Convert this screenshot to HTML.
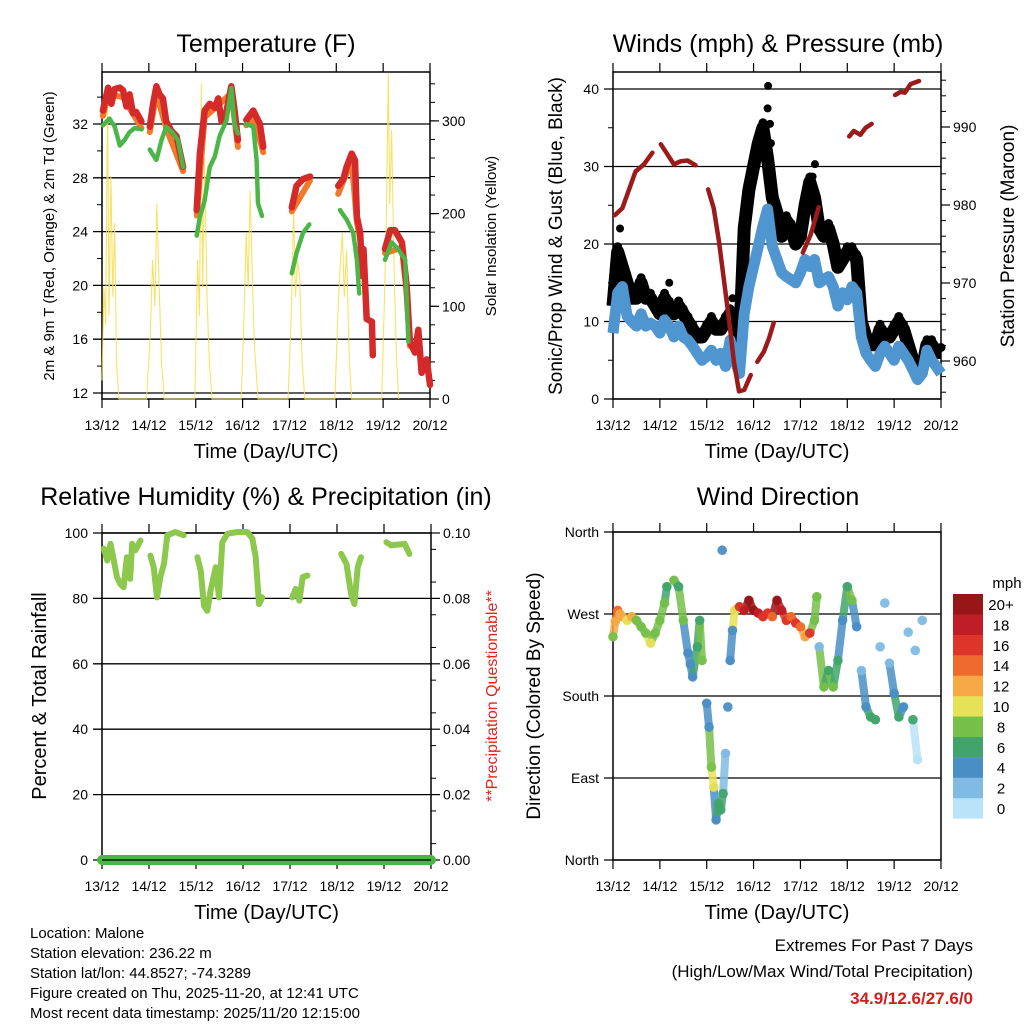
<!DOCTYPE html>
<html><head><meta charset="utf-8"><style>
body{margin:0;background:#fff;}
svg{display:block;font-family:"Liberation Sans",sans-serif;}
</style></head><body>
<svg id="fig" width="1024" height="1024" viewBox="0 0 1024 1024" xmlns="http://www.w3.org/2000/svg"></svg>
<script>
// ---------- DATA ----------
const dayLabels=["13/12","14/12","15/12","16/12","17/12","18/12","19/12","20/12"];
// Temperature (F)
const redTimes=[0.02,0.13,0.2,0.27,0.38,0.45,0.52,0.59,0.66,0.73,0.84,null,1.02,1.09,1.16,1.23,1.30,1.37,1.48,1.59,1.73,null,2.02,2.09,2.19,2.3,2.41,2.48,2.55,2.66,2.76,2.83,2.9,null,3.08,3.23,3.3,3.37,3.44,null,4.05,4.15,4.29,4.44,null,5.04,5.15,5.22,5.33,5.40,5.44,5.51,5.55,5.58,5.65,5.76,5.78,null,6.04,6.15,6.25,6.4,6.5,6.57,6.68,6.75,6.82,6.93,7.0];
const redValues=[33.0,34.7,33.5,34.6,34.7,34.5,33.3,34.2,32.8,32.9,32.2,null,31.8,33.5,34.8,34.2,33.9,32.2,31.5,31.1,28.8,null,25.6,29.8,33.0,33.5,33.2,33.9,32.2,33.0,34.8,33.0,30.8,null,32.3,33.0,32.5,32.0,30.3,null,25.8,27.4,27.9,28.1,null,27.4,27.9,28.8,29.8,29.3,25.1,23.9,20.7,22.7,17.5,17.3,14.8,null,22.7,24.1,24.1,23.2,20.0,15.8,15.0,16.7,13.5,14.5,12.6];
const orangeTimes=[0.02,0.13,0.45,0.84,null,1.02,1.16,1.37,1.73,null,2.02,2.19,2.48,2.76,2.9,null,3.08,3.23,3.44,null,4.05,4.44,null,5.04,5.33,5.44,5.51,null,6.04,6.4,6.5,6.57];
const orangeValues=[32.6,34.2,34.0,31.7,null,31.4,34.3,31.7,28.5,null,25.2,32.5,33.4,34.3,30.3,null,31.9,32.6,29.9,null,25.5,27.8,null,26.8,29.3,24.7,23.4,null,22.4,22.8,19.5,15.5];
const greenTimes=[0.02,0.16,0.27,0.38,0.48,0.59,0.70,0.84,null,1.02,1.16,1.27,1.37,1.52,1.62,1.73,null,2.02,2.09,2.19,2.3,2.41,2.51,2.66,2.76,2.83,2.9,null,3.08,3.23,3.3,3.33,3.42,null,4.05,4.15,4.29,4.44,null,5.08,5.22,5.36,5.44,5.49,null,6.04,6.18,6.32,6.47,6.54];
const greenValues=[31.9,32.4,31.8,30.4,30.8,31.4,31.7,31.6,null,30.1,29.3,30.8,31.8,31.3,30.8,28.8,null,23.7,25.1,26.3,28.8,29.6,31.1,32.3,34.7,32.0,31.3,null,32.0,31.8,29.3,26.1,25.1,null,20.9,22.4,23.9,24.6,null,25.6,24.9,23.9,21.9,19.4,null,21.9,23.2,22.7,21.9,15.8];
const solarTimes=[0.0,0.04,0.08,0.12,0.15,0.19,0.23,0.27,0.31,0.36,0.95,1.03,1.08,1.13,1.17,1.22,1.27,1.33,1.98,2.04,2.08,2.12,2.15,2.19,2.24,2.29,2.35,2.97,3.03,3.08,3.12,3.16,3.2,3.25,3.33,3.97,4.04,4.09,4.13,4.17,4.22,4.27,4.33,4.97,5.04,5.09,5.13,5.17,5.22,5.28,5.33,5.97,6.03,6.07,6.11,6.14,6.18,6.23,6.28,6.33];
const solarValues=[20,120,80,330,90,240,110,190,40,0,0,70,150,100,210,120,40,0,0,150,90,340,120,260,110,40,0,0,90,180,120,225,150,60,0,0,90,204,110,150,130,40,0,0,100,150,179,110,160,40,0,0,110,200,352,210,290,150,50,0];
// Winds & pressure
const windTimes=[0,0.1,0.2,0.3,0.4,0.5,0.6,0.7,0.8,0.9,1.0,1.1,1.2,1.3,1.4,1.5,1.6,1.7,1.8,1.9,2.0,2.1,2.2,2.3,2.4,2.5,2.6,2.7,2.8,2.9,3.0,3.1,3.2,3.3,3.4,3.5,3.6,3.7,3.8,3.9,4.0,4.1,4.2,4.3,4.4,4.5,4.6,4.7,4.8,4.9,5.0,5.1,5.2,5.3,5.4,5.5,5.6,5.7,5.8,5.9,6.0,6.1,6.2,6.3,6.4,6.5,6.6,6.7,6.8,6.9,7.0];
const windSpeed=[8.5,13.7,14.5,10.7,10,9.4,11,9.4,9.8,9.4,8.5,10.2,9.4,8,9.4,8,7.6,6.8,5.9,5,5.5,6.3,5,5.9,4.2,7.6,5,3.3,11,14.5,17.1,19.7,22.3,24.5,19.7,18,16.3,15.8,15.4,15,16.3,18,17.1,18,15,15.4,15.8,14.5,12,13.7,12.8,14.5,13.7,8,5.9,5,4.2,5.9,6.8,5.9,5,6.8,5.9,5,3.8,2.5,3.3,6.3,5,4.2,3.3];
const windGust=[12,19,17,15,13,13,15,13,13,12,11,13,12,11,12,11,10,9,8,8,9,10,9,9,10,11,10,7,22,27,30,33,35,31,26,24,21,23,22,20,21,25,28,26,22,21,22,20,17,18,19,19,18,10,8,7,7,9,8,8,9,10,9,7,5,3,4,7,7,6,6];
const peakGustTimes=[3.31,3.3,3.37,3.35,4.31,4.26,0.15,1.2,2.55];
const peakGustValues=[40.4,37.5,33,35.5,30.3,28.7,22,15,13];
const presTimes=[0.04,0.2,0.48,0.66,0.84,null,1.02,1.16,1.3,1.44,1.59,1.76,null,2.03,2.15,2.26,2.37,2.48,2.58,2.69,2.8,2.94,null,3.08,3.22,3.33,3.43,null,4.05,4.22,4.39,null,5.04,5.14,5.28,5.39,5.52,null,6.02,6.14,6.23,6.35,6.53];
const presValues=[978.7,979.6,984.3,985.2,986.7,null,987.8,986.5,985.2,985.6,985.7,985.1,null,982,979.6,975.4,970.2,965.1,959.9,956.1,956.3,958.2,null,959.9,961.2,962.9,964.9,null,973.9,976.2,979.7,null,988.8,989.5,989,989.9,990.4,null,994.1,994.5,994.4,995.5,995.9];
// RH & precip
const rhTimes=[0.04,0.11,0.18,0.25,0.32,0.39,0.46,0.53,0.6,0.64,0.71,0.82,null,1.03,1.1,1.17,1.24,1.32,1.39,1.56,1.74,null,2.03,2.1,2.17,2.24,2.31,2.42,2.49,2.56,2.67,2.88,3.09,3.2,3.27,3.34,3.41,null,4.05,4.12,4.2,4.27,4.37,null,5.09,5.2,5.3,5.37,5.44,5.51,null,6.05,6.15,6.44,6.54];
const rhValues=[95.2,91.6,96.7,91.6,86.5,84.4,83.4,92.6,86,96.7,94.7,97.7,null,93.1,89.5,80.3,86.5,90.6,99.3,100.3,99.3,null,92.6,88.5,77.7,76.2,82.4,89.5,80.3,97.2,99.8,100.3,100.3,98.3,92.6,78.3,80.3,null,80.3,82.9,79.3,86.5,87,null,93.6,90.6,81.4,78.3,89.5,92.6,null,97.2,96.2,96.7,93.6];
const precipTimes=[0,7];
const precipValues=[0,0];
// Wind direction
const dirTimes=[0.0,0.05,0.1,0.15,0.2,0.3,0.4,0.5,0.6,0.7,0.8,0.9,1.0,1.1,1.15,1.3,1.4,1.5,1.6,1.65,1.7,1.8,1.85,1.9,2.0,2.05,2.1,2.15,2.2,2.25,2.3,2.35,2.4,2.45,2.5,2.55,2.6,2.7,2.8,2.9,3.0,3.1,3.2,3.3,3.4,3.5,3.6,3.7,3.8,3.9,4.0,4.1,4.2,4.3,4.35,4.4,4.5,4.6,4.7,4.8,4.9,5.0,5.1,5.2,5.3,5.4,5.5,5.6,5.7,5.8,5.9,6.0,6.1,6.2,6.4,6.5,6.6,2.33,6.3,6.45];
const dirDegrees=[245,262,274,270,267,263,267,263,256,249,238,249,263,282,300,307,300,263,227,215,201,234,263,219,172,146,102,80,44,62,55,73,117,168,219,252,274,278,274,285,274,271,267,271,267,285,274,263,267,260,256,245,249,263,289,234,190,208,190,219,263,300,285,256,208,168,157,154,234,282,216,183,157,168,154,110,263,340,250,230];
const dirSpeeds=[8,12,14,12,12,10,12,8,8,8,10,8,8,8,6,8,6,8,4,4,4,6,6,8,4,4,8,10,4,6,6,6,2,4,4,4,10,16,18,20,20,18,16,16,14,20,18,16,14,16,14,12,16,8,8,2,8,6,8,6,4,6,8,4,2,4,6,6,2,2,2,4,6,4,6,0,2,4,2,2];
const legendLabels=["0","2","4","6","8","10","12","14","16","18","20+"];
const legendColors=["#b9e3f8","#7fbbe4","#4a8ec6","#41a46c","#76c04a","#e6e258","#f6a945","#ef6a2d","#dd3529","#c01e26","#981518"];

// ---------- HELPERS ----------
const NS="http://www.w3.org/2000/svg";
const svg=document.getElementById('fig');
function mk(tag,attrs,parent){const e=document.createElementNS(NS,tag);for(const k in attrs)e.setAttribute(k,attrs[k]);(parent||svg).appendChild(e);return e;}
function txt(s,x,y,size,anchor,parent,extra){const e=mk('text',Object.assign({x:x,y:y,'font-size':size,'text-anchor':anchor||'middle',fill:'#000'},extra||{}),parent);e.textContent=s;return e;}
function pathFrom(times,vals,sx,sy){let d='',pen=false;for(let i=0;i<times.length;i++){if(times[i]===null||vals[i]===null){pen=false;continue;}d+=(pen?'L':'M')+sx(times[i]).toFixed(1)+','+sy(vals[i]).toFixed(1);pen=true;}return d;}
function frame(P,name,yTicks,sy,yLabels,rTicks,sr,rLabels,leftMinor,rightMinor){
  const g=mk('g',{});
  
  
  yTicks.forEach((v,i)=>{const y=sy(v);
    const gl=mk('line',{x1:P.x0-9,x2:P.x1,y1:y,y2:y,stroke:'#000','stroke-width':1.3},g);
    
    
    const t=txt(yLabels[i],P.x0-14,y+5,14,'end',g);
    
    });
  (leftMinor||[]).forEach(v=>{const y=sy(v);mk('line',{x1:P.x0-5,x2:P.x0,y1:y,y2:y,stroke:'#000','stroke-width':1},g);});
  if(rTicks){rTicks.forEach((v,i)=>{const y=sr(v);mk('line',{x1:P.x1,x2:P.x1+9,y1:y,y2:y,stroke:'#000','stroke-width':1.2},g);
    const t=txt(rLabels[i],P.x1+12,y+5,14,'start',g);
    
    });
    (rightMinor||[]).forEach(v=>{const y=sr(v);mk('line',{x1:P.x1,x2:P.x1+5,y1:y,y2:y,stroke:'#000','stroke-width':1},g);});}
  dayLabels.forEach((s,i)=>{const x=P.x0+i*(P.x1-P.x0)/7;
    mk('line',{x1:x,x2:x,y1:P.y0-9,y2:P.y0,stroke:'#000','stroke-width':1.2},g);
    mk('line',{x1:x,x2:x,y1:P.y1,y2:P.y1+9,stroke:'#000','stroke-width':1.2},g);
    const t=txt(s,x,P.y1+31,14,'middle',g);
    
    });
  const r=mk('rect',{x:P.x0,y:P.y0,width:P.x1-P.x0,height:P.y1-P.y0,fill:'none',stroke:'#000','stroke-width':1.5},g);
  
  
  const xt=txt('Time (Day/UTC)',(P.x0+P.x1)/2,P.y1+59,20,'middle',g);
  
  
  return g;
}
function rot(s,x,y,size,name,color){const t=txt(s,x,y,size,'middle',svg,{transform:'rotate(-90 '+x+' '+y+')',fill:color||'#000'});return t;}
function title(s,x,y,name){const t=txt(s,x,y,25,'middle');}
function range(a,b,s){const r=[];for(let v=a;v<=b+1e-9;v+=s)r.push(v);return r;}

// ---------- PANEL 1: Temperature ----------
const P1={x0:102,x1:430,y0:72,y1:399};
const sx1=d=>P1.x0+d*(P1.x1-P1.x0)/7;
const sy1=T=>393-(T-12)*13.45;
const sr1=v=>399-v*0.927;
title('Temperature (F)',266,52,'temperature-title');
frame(P1,'temperature',[12,16,20,24,28,32],sy1,["12","16","20","24","28","32"],[0,100,200,300],sr1,["0","100","200","300"],range(14,34,4),range(20,340,20));
const solar=mk('path',{d:pathFrom(solarTimes,solarValues,sx1,sr1),fill:'none',stroke:'#f7dc4a','stroke-width':1.1,'stroke-opacity':0.85});


const orange=mk('path',{d:pathFrom(orangeTimes,orangeValues,sx1,sy1),fill:'none',stroke:'#f07a2a','stroke-width':6,'stroke-linejoin':'round','stroke-linecap':'round'});


const red=mk('path',{d:pathFrom(redTimes,redValues,sx1,sy1),fill:'none',stroke:'#d42a2a','stroke-width':6.5,'stroke-linejoin':'round','stroke-linecap':'round'});


const green=mk('path',{d:pathFrom(greenTimes,greenValues,sx1,sy1),fill:'none',stroke:'#4cb548','stroke-width':4.5,'stroke-dasharray':'3 1.5','stroke-linejoin':'round','stroke-linecap':'round'});


rot('2m & 9m T (Red, Orange) & 2m Td (Green)',54,236,15,'temperature-y-axis-title');
rot('Solar Insolation (Yellow)',496,236,15,'solar-y-axis-title');

// ---------- PANEL 2: Winds ----------
const P2={x0:613,x1:941,y0:72,y1:399};
const sx2=d=>P2.x0+d*(P2.x1-P2.x0)/7;
const sy2=v=>399-v*7.75;
const sp2=mb=>361-(mb-960)*7.8;
title('Winds (mph) & Pressure (mb)',778,52,'winds-title');
frame(P2,'winds',[0,10,20,30,40],sy2,["0","10","20","30","40"],[960,970,980,990],sp2,["960","970","980","990"],range(5,35,10),range(956,996,2));
const gustLine=mk('path',{d:pathFrom(windTimes,windGust,sx2,sy2),fill:'none',stroke:'#000','stroke-width':13,'stroke-linejoin':'round'});


windTimes.forEach((t,i)=>{const c=mk('circle',{cx:sx2(t),cy:sy2(windGust[i])-5,r:4.5,fill:'#000'});
  
  });
peakGustTimes.forEach((t,i)=>{const c=mk('circle',{cx:sx2(t),cy:sy2(peakGustValues[i]),r:4,fill:'#000'});
  
  });
const windLine=mk('path',{d:pathFrom(windTimes,windSpeed,sx2,sy2),fill:'none',stroke:'#4f95cf','stroke-width':11,'stroke-linejoin':'round'});


const pres=mk('path',{d:pathFrom(presTimes,presValues,sx2,sp2),fill:'none',stroke:'#9b1b1b','stroke-width':4.5,'stroke-linecap':'round','stroke-linejoin':'round'});


rot('Sonic/Prop Wind & Gust (Blue, Black)',562,236,19,'wind-y-axis-title');
rot('Station Pressure (Maroon)',1014,236,19,'pressure-y-axis-title');

// ---------- PANEL 3: RH ----------
const P3={x0:102,x1:431,y0:533,y1:860};
const sx3=d=>P3.x0+d*(P3.x1-P3.x0)/7;
const sy3=v=>860-v*3.27;
const sr3=v=>860-v*3270;
title('Relative Humidity (%) & Precipitation (in)',266,505,'humidity-title');
frame(P3,'humidity',[0,20,40,60,80,100],sy3,["0","20","40","60","80","100"],[0,0.02,0.04,0.06,0.08,0.10],sr3,["0.00","0.02","0.04","0.06","0.08","0.10"],[],range(0.005,0.095,0.01));
const rh=mk('path',{d:pathFrom(rhTimes,rhValues,sx3,sy3),fill:'none',stroke:'#8cc84b','stroke-width':6,'stroke-linejoin':'round','stroke-linecap':'round'});


const pr=mk('path',{d:pathFrom(precipTimes,precipValues,sx3,sr3),fill:'none',stroke:'#4bb547','stroke-width':10,'stroke-linecap':'round'});


mk('line',{x1:P3.x0,x2:P3.x1,y1:860,y2:860,stroke:'#000','stroke-width':1.3});
rot('Percent & Total Rainfall',46,696,20,'humidity-y-axis-title');
rot('**Precipitation Questionable**',497,696,16,'precipitation-warning','#e8201c');

// ---------- PANEL 4: Wind direction ----------
const P4={x0:613,x1:941,y0:532,y1:860};
const sx4=d=>P4.x0+d*(P4.x1-P4.x0)/7;
const sy4=deg=>860-deg*0.9111;
title('Wind Direction',778,505,'wind-direction-title');
frame(P4,'wind-direction',[0,90,180,270,360],sy4,["North","East","South","West","North"],null);
function speedColor(s){let i=Math.floor(s/2);if(i>10)i=10;if(i<0)i=0;return legendColors[i];}
// connecting trail between consecutive observations (only when close in time and direction)
for(let i=1;i<dirTimes.length;i++){
  const dt=dirTimes[i]-dirTimes[i-1], dd=Math.abs(dirDegrees[i]-dirDegrees[i-1]);
  if(dt>0&&dt<=0.11&&dd<45){
    const s=mk('line',{x1:sx4(dirTimes[i-1]),y1:sy4(dirDegrees[i-1]),x2:sx4(dirTimes[i]),y2:sy4(dirDegrees[i]),stroke:speedColor(dirSpeeds[i]),'stroke-width':8,'stroke-linecap':'round','stroke-opacity':0.85});
    
    
  }
}
dirTimes.forEach((t,i)=>{const c=mk('circle',{cx:sx4(t),cy:sy4(dirDegrees[i]),r:4.8,fill:speedColor(dirSpeeds[i]),'fill-opacity':0.95});
  
  });
rot('Direction (Colored By Speed)',540,696,19,'direction-y-axis-title');
// legend
const lg=mk('g',{});


const mph=txt('mph',1007,588,15,'middle',lg);


legendColors.forEach((c,i)=>{const y=798-i*20.4;
  const r=mk('rect',{x:953,y:y,width:30,height:20.6,fill:c},lg);
  
  
  const t=txt(legendLabels[i],1001,y+16,15,'middle',lg);
  
  });

// ---------- FOOTER ----------
const info=["Location: Malone","Station elevation: 236.22 m","Station lat/lon: 44.8527; -74.3289","Figure created on Thu, 2025-11-20, at 12:41 UTC","Most recent data timestamp: 2025/11/20 12:15:00"];
info.forEach((s,i)=>{const t=txt(s,30,938+i*20,15,'start');
  
  });
const e1=txt('Extremes For Past 7 Days',973,951,17,'end');


const e2=txt('(High/Low/Max Wind/Total Precipitation)',973,977,17,'end');


const e3=txt('34.9/12.6/27.6/0',973,1004,17,'end',svg,{fill:'#d0201e','font-weight':'bold'});


</script>
</body></html>
